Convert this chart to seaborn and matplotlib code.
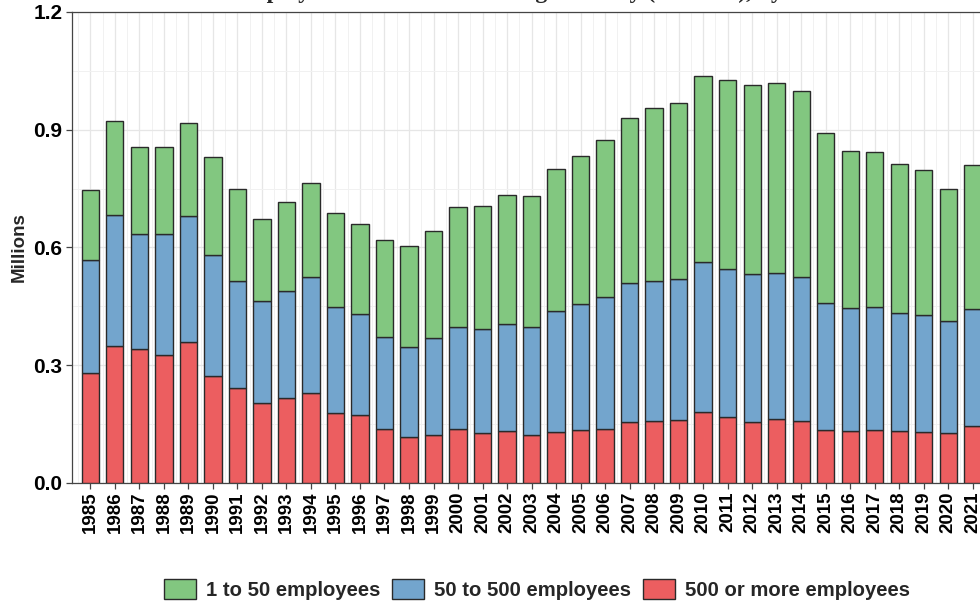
import matplotlib
matplotlib.use("Agg")
import matplotlib.pyplot as plt
import seaborn as sns
import numpy as np
import pandas as pd
from matplotlib.patches import Patch
from matplotlib.ticker import MultipleLocator

years = [str(y) for y in range(1985, 2022)]

# employment by firm size, millions
large = [0.279, 0.349, 0.341, 0.326, 0.360, 0.273, 0.241, 0.203, 0.216, 0.228,
         0.179, 0.172, 0.137, 0.116, 0.122, 0.137, 0.127, 0.133, 0.121, 0.130,
         0.135, 0.138, 0.156, 0.159, 0.160, 0.180, 0.167, 0.156, 0.162, 0.158,
         0.135, 0.132, 0.135, 0.133, 0.129, 0.127, 0.144]
medium = [0.289, 0.333, 0.294, 0.309, 0.320, 0.307, 0.273, 0.260, 0.272, 0.298,
          0.269, 0.259, 0.236, 0.231, 0.247, 0.261, 0.265, 0.272, 0.276, 0.307,
          0.320, 0.337, 0.354, 0.356, 0.359, 0.384, 0.377, 0.376, 0.372, 0.366,
          0.323, 0.313, 0.313, 0.299, 0.299, 0.286, 0.299]
small = [0.178, 0.241, 0.220, 0.220, 0.236, 0.251, 0.234, 0.209, 0.229, 0.238,
         0.241, 0.230, 0.246, 0.258, 0.273, 0.304, 0.314, 0.329, 0.334, 0.362,
         0.378, 0.399, 0.419, 0.440, 0.448, 0.473, 0.483, 0.482, 0.484, 0.475,
         0.433, 0.402, 0.394, 0.380, 0.369, 0.335, 0.367]

labels = ["1 to 50 employees", "50 to 500 employees", "500 or more employees"]
colors = ["#82C780", "#73A5CD", "#EC5E60"]

df = pd.DataFrame({"year": years, "large": large, "medium": medium, "small": small})

sns.set_style("white")
plt.rcParams["font.family"] = ["Liberation Sans", "DejaVu Sans"]
plt.rcParams["font.weight"] = "bold"

fig = plt.figure(figsize=(9.8, 6.05), dpi=100)
ax = fig.add_axes([0.0735, 0.2017, 0.9265, 0.7785])

bar_kw = dict(order=years, width=0.7, saturation=1, errorbar=None,
              edgecolor="#2a2a2a", linewidth=1.0, ax=ax, zorder=3)
sns.barplot(data=df, x="year", y="large", color=colors[2], **bar_kw)
sns.barplot(data=df, x="year", y="medium", color=colors[1],
            bottom=df["large"].values, **bar_kw)
sns.barplot(data=df, x="year", y="small", color=colors[0],
            bottom=(df["large"] + df["medium"]).values, **bar_kw)

ax.set_xlim(-0.75, 36.3)
ax.set_ylim(0, 1.2)
ax.yaxis.set_major_locator(MultipleLocator(0.3))
ax.yaxis.set_minor_locator(MultipleLocator(0.15))
ax.set_xticks(np.arange(len(years)))
ax.set_xticks(np.arange(len(years)) - 0.5, minor=True)
ax.set_yticklabels([f"{v:.1f}" for v in ax.get_yticks()])

ax.grid(True, which="major", color="#E6E6E6", linewidth=0.9, zorder=0)
ax.grid(True, which="minor", color="#F1F1F1", linewidth=0.7, zorder=0)
ax.set_axisbelow(True)

for side in ["left", "top", "bottom"]:
    ax.spines[side].set_visible(True)
    ax.spines[side].set_color("#444444")
    ax.spines[side].set_linewidth(0.9)
ax.spines["right"].set_visible(False)

ax.tick_params(axis="both", which="major", length=4, width=0.9, color="#444444",
               labelcolor="black", direction="out", left=True, bottom=True)
ax.tick_params(axis="both", which="minor", length=0)
ax.tick_params(axis="x", rotation=90, pad=2, labelsize=13.5)
ax.tick_params(axis="y", pad=3, labelsize=15)
for lab in ax.get_xticklabels() + ax.get_yticklabels():
    lab.set_fontweight("bold")

ax.set_xlabel("")
ax.set_ylabel("Millions", fontsize=13.5, fontweight="bold", labelpad=4)

# title sits mostly above the visible canvas, as in the cropped reference
fig.text(0.57, 1.0035, "Employment in Manufacturing Industry (Millions), by Firm Size",
         ha="center", va="baseline", fontsize=17, fontweight="bold",
         family=["Liberation Serif", "DejaVu Serif"])

handles = [Patch(facecolor=c, edgecolor="#2a2a2a", linewidth=1.0) for c in colors]
fig.legend(handles, labels, loc="center", bbox_to_anchor=(0.548, 0.026), ncol=3,
           frameon=False, handlelength=1.55, handleheight=1.2,
           handletextpad=0.5, columnspacing=0.6,
           prop={"weight": "bold", "size": 14.6})

fig.savefig("out.png", dpi=100)
